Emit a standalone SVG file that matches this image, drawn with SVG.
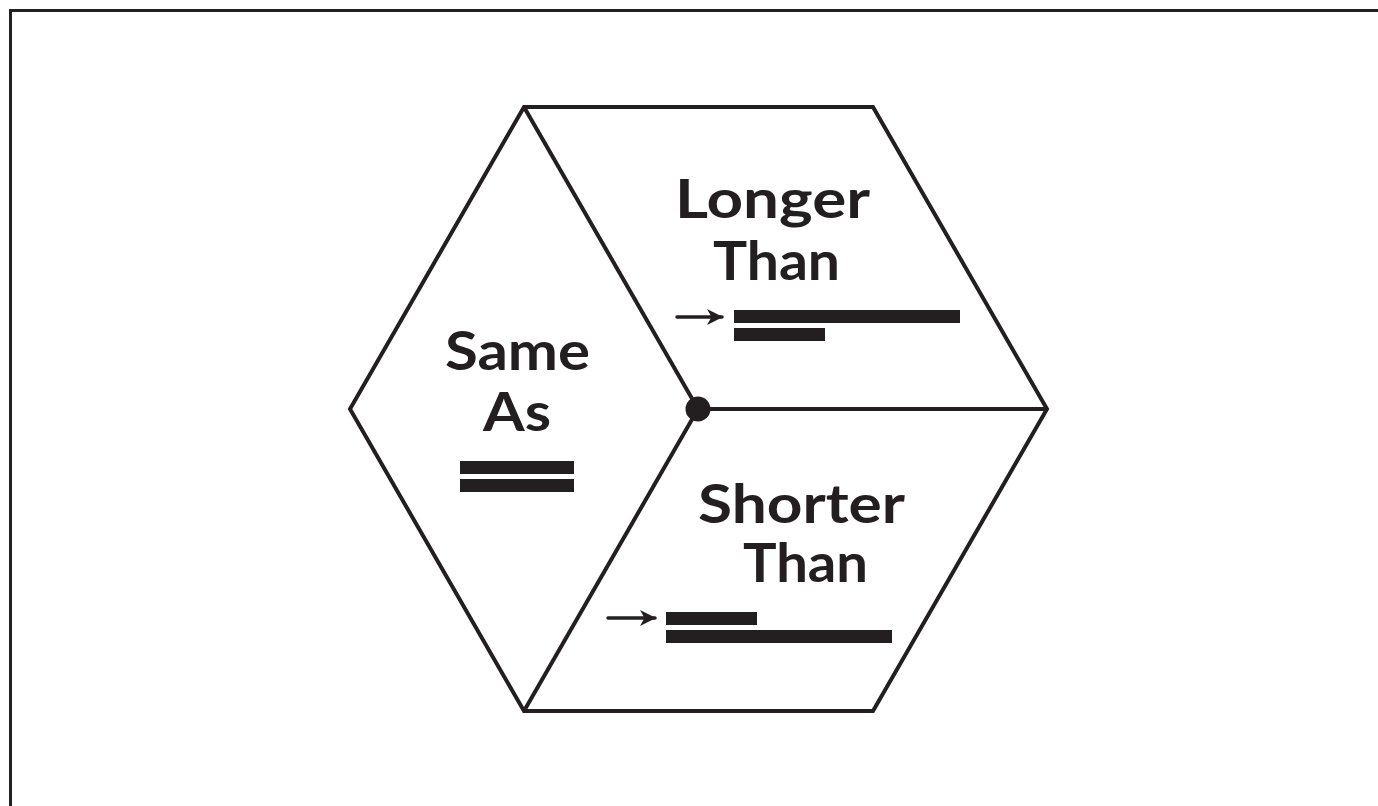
<svg xmlns="http://www.w3.org/2000/svg" width="1378" height="806" viewBox="0 0 1378 806">
  <style>
    .edge { fill: none; stroke: #231f20; stroke-width: 4; stroke-linejoin: miter; stroke-linecap: butt; }
    .lbl { font-family: Lato, "Open Sans", sans-serif; font-weight: 700; font-size: 54px; fill: #231f20; }
    .bar { fill: #231f20; }
    .arr { stroke: #231f20; stroke-width: 3.5; stroke-linecap: round; }
  </style>
  <defs>
    <marker id="ah" viewBox="0 0 16 16" refX="15" refY="8" markerWidth="16" markerHeight="16" markerUnits="userSpaceOnUse" orient="auto">
      <path d="M0,0 L16,8 L0,16 L4.5,8 Z" fill="#231f20"/>
    </marker>
  </defs>
  <rect x="0" y="0" width="1378" height="806" fill="#ffffff"/>
  <path d="M10.5,806 V10.5 H1378" fill="none" stroke="#231f20" stroke-width="3"/>

  <g id="connectors">
    <polygon class="edge" points="350,409 524,107 873,107 1047,409 873,711 524,711"/>
    <line class="edge" x1="698" y1="409" x2="524" y2="107"/>
    <line class="edge" x1="698" y1="409" x2="1047" y2="409"/>
    <line class="edge" x1="698" y1="409" x2="524" y2="711"/>
    <circle cx="698" cy="409" r="12.5" fill="#231f20"/>
  </g>

  <g id="same-as">
    <text class="lbl" x="445" y="370" textLength="145" lengthAdjust="spacingAndGlyphs">Same</text>
    <text class="lbl" x="483" y="431" textLength="68" lengthAdjust="spacingAndGlyphs">As</text>
    <rect class="bar" x="460" y="461" width="114" height="13"/>
    <rect class="bar" x="460" y="479" width="114" height="13"/>
  </g>

  <g id="longer-than">
    <text class="lbl" x="675" y="218" textLength="195" lengthAdjust="spacingAndGlyphs">Longer</text>
    <text class="lbl" x="713" y="280" textLength="127" lengthAdjust="spacingAndGlyphs">Than</text>
    <line class="arr" x1="677" y1="317" x2="722" y2="317" marker-end="url(#ah)"/>
    <rect class="bar" x="734" y="310" width="226" height="13"/>
    <rect class="bar" x="734" y="328" width="91" height="13"/>
  </g>

  <g id="shorter-than">
    <text class="lbl" x="698" y="523" textLength="207" lengthAdjust="spacingAndGlyphs">Shorter</text>
    <text class="lbl" x="743" y="582" textLength="125" lengthAdjust="spacingAndGlyphs">Than</text>
    <line class="arr" x1="608" y1="618" x2="655" y2="618" marker-end="url(#ah)"/>
    <rect class="bar" x="666" y="612" width="91" height="13"/>
    <rect class="bar" x="666" y="630" width="226" height="13"/>
  </g>
</svg>
